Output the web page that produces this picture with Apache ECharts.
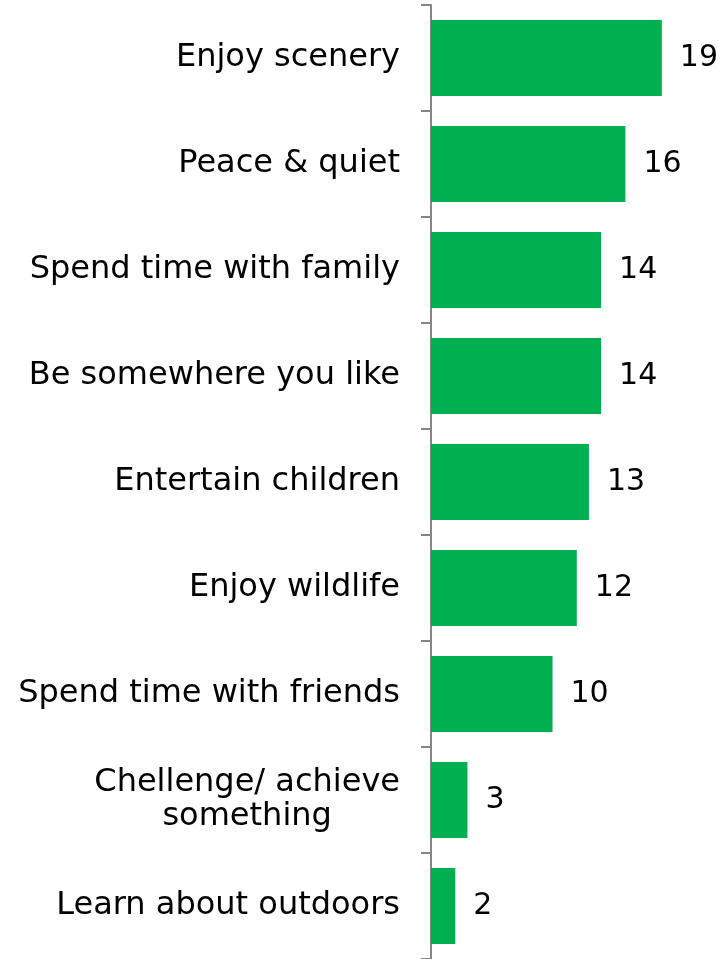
<!DOCTYPE html>
<html>
<head>
<meta charset="utf-8">
<script src="https://cdn.jsdelivr.net/npm/echarts@6/dist/echarts.min.js"></script>
<style>
  html, body { margin: 0; padding: 0; background: #ffffff; }
  #chart { width: 721px; height: 959px; }
</style>
</head>
<body>
<div id="chart"></div>
<script>
// Reasons for visiting, top to bottom
const categories = [
  'Enjoy scenery',
  'Peace & quiet',
  'Spend time with family',
  'Be somewhere you like',
  'Entertain children',
  'Enjoy wildlife',
  'Spend time with friends',
  'Chellenge/ achieve\nsomething',
  'Learn about outdoors'
];
const values = [19, 16, 14, 14, 13, 12, 10, 3, 2];

const FONT = '"DejaVu Sans", Verdana, sans-serif';
const GREEN = '#00B050';
const AXIS_GREY = '#868686';

const chart = echarts.init(document.getElementById('chart'), null, { renderer: 'canvas' });

chart.setOption({
  backgroundColor: '#ffffff',
  animation: false,
  grid: { left: 431, top: 5, width: 243, height: 956, containLabel: false },
  xAxis: {
    type: 'value',
    min: 0,
    max: 20,
    show: false
  },
  yAxis: {
    type: 'category',
    inverse: true,
    data: categories,
    axisLine: { show: true, lineStyle: { color: AXIS_GREY, width: 2 } },
    axisTick: { show: true, length: 10, lineStyle: { color: AXIS_GREY, width: 2 } },
    axisLabel: {
      margin: 31,
      fontFamily: FONT,
      fontSize: 32,
      color: '#000000',
      align: 'right',
      lineHeight: 34,
      formatter: function (v) {
        return v.split('\n').map(function (s) { return '{c|' + s + '}'; }).join('\n');
      },
      rich: {
        c: { fontFamily: FONT, fontSize: 32, color: '#000000', align: 'center', lineHeight: 34 }
      }
    },
    splitLine: { show: false }
  },
  series: [{
    type: 'bar',
    data: values,
    barWidth: 76,
    itemStyle: { color: GREEN },
    label: {
      show: true,
      position: 'right',
      distance: 18,
      fontFamily: FONT,
      fontSize: 30,
      color: '#000000'
    }
  }]
});
</script>
</body>
</html>
